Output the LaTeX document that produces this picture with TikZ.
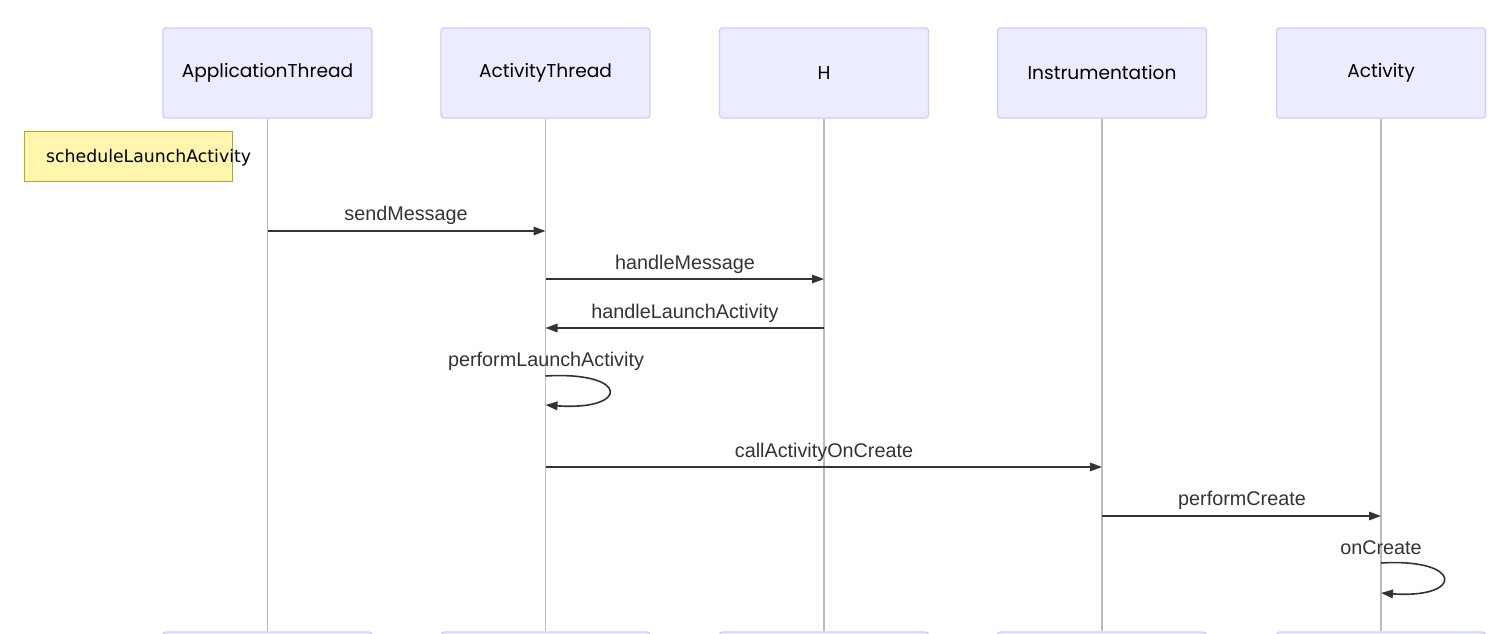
\documentclass[tikz,border=0pt]{standalone}
\usepackage{fontspec}
\setmainfont{Liberation Sans}
\newfontfamily\actorfont{Poppins}
\newfontfamily\notefont{DejaVu Sans}
\usetikzlibrary{arrows.meta}
\definecolor{actorfill}{HTML}{ECECFF}
\definecolor{actorline}{HTML}{CCCCFF}
\definecolor{notefill}{HTML}{FFF5AD}
\definecolor{noteline}{HTML}{AAAA33}
\definecolor{lifecol}{HTML}{BBBBBB}
\definecolor{msgcol}{HTML}{333333}
\begin{document}
\begin{tikzpicture}[x=1pt,y=-1pt,
  actor/.style={draw=actorline, fill=actorfill, line width=1.3pt, rounded corners=3pt,
    minimum width=209pt, minimum height=90pt, inner sep=0pt,
    font=\actorfont\fontsize{18.6}{22}\selectfont, text=black},
  lifeline/.style={draw=lifecol, line width=1.3pt},
  msgline/.style={draw=msgcol, line width=1.6pt, -{Triangle[length=12pt,width=8.5pt]}},
  msglabel/.style={font=\fontsize{19.8}{23}\selectfont, text=msgcol, inner sep=0pt, anchor=base},
  notebox/.style={draw=noteline, fill=notefill, line width=1pt, minimum width=208pt,
    minimum height=50pt, inner sep=0pt}
]
\useasboundingbox (0,0) rectangle (1510,634);
\clip (0,0) rectangle (1510,634);

% participants; the closing row sits just below the lower edge
\node[actor] (appT) at (267.5,73) {ApplicationThread};
\node[actor] (actT) at (545.5,73) {ActivityThread};
\node[actor] (hT)   at (824,73)   {H};
\node[actor] (insT) at (1102,73)  {Instrumentation};
\node[actor] (acvT) at (1381,73)  {Activity};
\node[actor] (appB) at (267.5,677) {};
\node[actor] (actB) at (545.5,677) {};
\node[actor] (hB)   at (824,677)   {};
\node[actor] (insB) at (1102,677)  {};
\node[actor] (acvB) at (1381,677)  {};

% lifelines
\foreach \p in {app,act,h,ins,acv}
  \draw[lifeline] (\p T.south) -- (\p B.north);

% note
\node[notebox] (note) at (128,156) {};
\node[font=\notefont\fontsize{17.3}{20}\selectfont, text=black, anchor=west, inner sep=0pt]
  (noteText) at (46,158) {scheduleLaunchActivity};

% message rows
\coordinate (r1) at (0,231);
\coordinate (r2) at (0,279);
\coordinate (r3) at (0,328);
\coordinate (r5) at (0,467);
\coordinate (r6) at (0,516);

\draw[msgline] (appT |- r1) -- (actT |- r1);
\node[msglabel] (l1) at (406,220) {sendMessage};

\draw[msgline] (actT |- r2) -- (hT |- r2);
\node[msglabel] (l2) at (685,269) {handleMessage};

\draw[msgline] (hT |- r3) -- (actT |- r3);
\node[msglabel] (l3) at (685,318) {handleLaunchActivity};

% self call on ActivityThread
\coordinate (s1a) at (545.5,376);
\coordinate (s1b) at (545.5,405);
\node[msglabel] (l4) at (546,366) {performLaunchActivity};
\draw[msgline] (s1a) .. controls (630,371) and (630,411) .. (s1b);

\draw[msgline] (actT |- r5) -- (insT |- r5);
\node[msglabel] (l5) at (824,457) {callActivityOnCreate};

\draw[msgline] (insT |- r6) -- (acvT |- r6);
\node[msglabel] (l6) at (1242,505) {performCreate};

% self call on Activity
\coordinate (s2a) at (1381,563);
\coordinate (s2b) at (1381,593);
\node[msglabel] (l7) at (1381,554) {onCreate};
\draw[msgline] (s2a) .. controls (1464,558) and (1464,599) .. (s2b);
\end{tikzpicture}
\end{document}
